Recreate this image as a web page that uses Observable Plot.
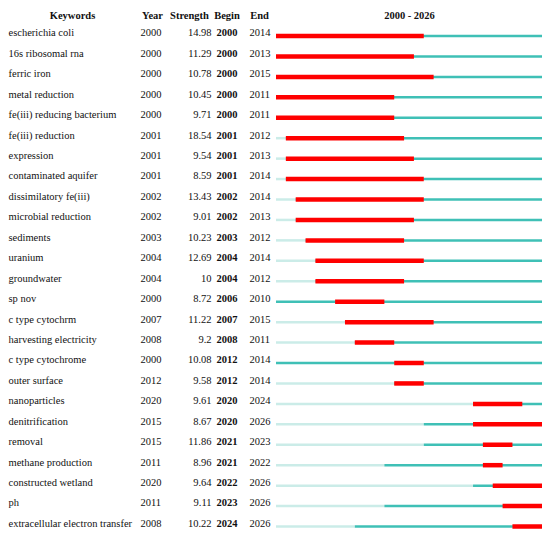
<!DOCTYPE html>
<html>
<head>
<meta charset="utf-8">
<script src="https://cdn.jsdelivr.net/npm/d3@7"></script>
<script src="https://cdn.jsdelivr.net/npm/@observablehq/plot@0.6"></script>
<style>
  html, body { margin: 0; padding: 0; background: #fff; }
</style>
</head>
<body>
<div id="chart"></div>
<script>
const startYear = 2000;
const endYear = 2026;
const keywords = [
  "escherichia coli", "16s ribosomal rna", "ferric iron", "metal reduction",
  "fe(iii) reducing bacterium", "fe(iii) reduction", "expression", "contaminated aquifer",
  "dissimilatory fe(iii)", "microbial reduction", "sediments", "uranium", "groundwater",
  "sp nov", "c type cytochrm", "harvesting electricity", "c type cytochrome",
  "outer surface", "nanoparticles", "denitrification", "removal", "methane production",
  "constructed wetland", "ph", "extracellular electron transfer"
];
const years = [2000, 2000, 2000, 2000, 2000, 2001, 2001, 2001, 2002, 2002, 2003, 2004, 2004,
  2000, 2007, 2008, 2000, 2012, 2020, 2015, 2015, 2011, 2020, 2011, 2008];
const strengths = [14.98, 11.29, 10.78, 10.45, 9.71, 18.54, 9.54, 8.59, 13.43, 9.01, 10.23, 12.69, 10,
  8.72, 11.22, 9.2, 10.08, 9.58, 9.61, 8.67, 11.86, 8.96, 9.64, 9.11, 10.22];
const begins = [2000, 2000, 2000, 2000, 2000, 2001, 2001, 2001, 2002, 2002, 2003, 2004, 2004,
  2006, 2007, 2008, 2012, 2012, 2020, 2020, 2021, 2021, 2022, 2023, 2024];
const ends = [2014, 2013, 2015, 2011, 2011, 2012, 2013, 2014, 2014, 2013, 2012, 2014, 2012,
  2010, 2015, 2011, 2014, 2014, 2024, 2026, 2023, 2022, 2026, 2026, 2026];
const headerLabels = ["Keywords", "Year", "Strength", "Begin", "End", startYear + " - " + endYear];

const rows = keywords.map((k, i) => ({
  i, k, year: years[i], strength: strengths[i], begin: begins[i], end: ends[i]
}));

const font = "'Liberation Serif', 'Times New Roman', serif";
const fs = 10.5;
const light = "#cbece8";
const teal = "#3fc0b6";
const red = "#ff0000";
const ink = "#111";

const headerDx = [72, 152, 189, 226.5, 259, 409];
const headerMarks = headerLabels.map((t, i) =>
  Plot.text([t], {text: d => d, frameAnchor: "top-left", dx: headerDx[i], dy: 11,
    fill: ink, fontSize: fs, fontFamily: font, fontWeight: "bold", textAnchor: "middle"})
);

const col = (text, dx, anchor, weight) => Plot.text(rows, {
  y: "i", text, frameAnchor: "left", dx, dy: -3, textAnchor: anchor,
  fill: ink, fontSize: fs, fontFamily: font, fontWeight: weight || "normal"
});

const chart = Plot.plot({
  width: 550,
  height: 538,
  marginTop: 0, marginBottom: 0, marginLeft: 0, marginRight: 0,
  style: {fontFamily: font, fontSize: fs + "px", background: "#fff"},
  x: {domain: [startYear, endYear + 1], range: [276, 542], axis: null},
  y: {type: "linear", domain: [0, keywords.length - 1], range: [35.5, 526], axis: null},
  marks: [
    Plot.ruleY(rows, {y: "i", x1: () => startYear, x2: "year", stroke: light, strokeWidth: 2.5}),
    Plot.ruleY(rows, {y: "i", x1: "year", x2: () => endYear + 1, stroke: teal, strokeWidth: 2.5}),
    Plot.ruleY(rows, {y: "i", x1: "begin", x2: d => d.end + 1, stroke: red, strokeWidth: 4.5}),
    col("k", 8, "start"),
    col(d => String(d.year), 140, "start"),
    col(d => String(d.strength), 211, "end"),
    col(d => String(d.begin), 216, "start", "bold"),
    col(d => String(d.end), 249, "start"),
    ...headerMarks
  ]
});
document.getElementById("chart").appendChild(chart);
</script>
</body>
</html>
